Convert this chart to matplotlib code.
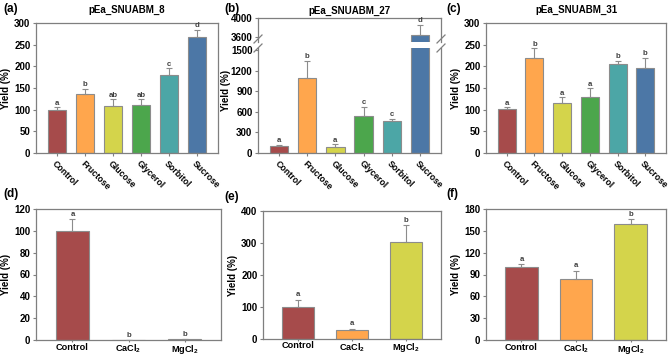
import matplotlib
matplotlib.use("Agg")
import matplotlib.pyplot as plt
import numpy as np

plt.rcParams['font.family'] = ['Liberation Sans', 'DejaVu Sans']
plt.rcParams['font.weight'] = 'bold'
plt.rcParams['mathtext.fontset'] = 'custom'
plt.rcParams['mathtext.rm'] = 'Liberation Sans:bold'
plt.rcParams['mathtext.bf'] = 'Liberation Sans:bold'
plt.rcParams['mathtext.default'] = 'bf'

sugars = ['Control', 'Fructose', 'Glucose', 'Glycerol', 'Sorbitol', 'Sucrose']
sugar_colors = ['#A64B4B', '#FFA64D', '#D4D44B', '#4CA64C', '#4CA6A6', '#4C77A6']

a_vals = [100, 135, 109, 111, 180, 268]
a_err = [5, 13, 15, 13, 15, 16]
a_let = ['a', 'b', 'ab', 'ab', 'c', 'd']

b_vals = [102, 1100, 88, 536, 465, 3640]
b_err = [18, 240, 40, 135, 35, 220]
b_let = ['a', 'b', 'a', 'c', 'c', 'd']

c_vals = [101, 220, 116, 130, 206, 197]
c_err = [5, 22, 13, 20, 7, 23]
c_let = ['a', 'b', 'a', 'a', 'b', 'b']

salts = ['Control', 'CaCl$_2$', 'MgCl$_2$']
salt_colors = ['#A64B4B', '#FFA64D', '#D4D44B']

d_vals = [100, 0, 0.5]
d_err = [11, 0, 0]
d_let = ['a', 'b', 'b']

e_vals = [100, 28, 302]
e_err = [23, 4, 54]
e_let = ['a', 'a', 'b']

f_vals = [100, 84, 160]
f_err = [4, 11, 6]
f_let = ['a', 'a', 'b']

W, H = 669, 355
fig = plt.figure(figsize=(W / 100, H / 100), dpi=100)

def rect(l, r, t, b):
    return [l / W, 1 - b / H, (r - l) / W, (b - t) / H]

SPINE = '#7f7f7f'
TFS = 7      # y tick font size
XFS = 6.6    # x tick font size (salts)
RFS = 6.3    # rotated x tick font size
LFS = 7      # ylabel size

def style(ax):
    for s in ax.spines.values():
        s.set_color(SPINE)
        s.set_linewidth(0.9)
    ax.tick_params(axis='y', colors='black', labelsize=TFS, length=2.5, width=0.8, pad=1.5)
    ax.tick_params(axis='x', colors='black', width=0.8)
    ax.tick_params(axis='both', color=SPINE)
    for lab in ax.get_yticklabels():
        lab.set_fontweight('bold')

def bars(ax, vals, err, colors, width, letters, off, fs=5.6):
    x = np.arange(len(vals))
    ax.bar(x, vals, width=width, color=colors, edgecolor='#8c8c8c', linewidth=0.8, zorder=2)
    ax.errorbar(x, vals, yerr=[np.zeros(len(err)), err], fmt='none', ecolor='#8c8c8c',
                elinewidth=0.8, capsize=2.2, capthick=0.8, zorder=3)
    lo, hi = ax.get_ylim()
    for xi, v, e, l in zip(x, vals, err, letters):
        if lo <= v + e <= hi:
            ax.text(xi, v + e + off, l, ha='center', va='bottom', fontsize=fs, color='#404040',
                    fontweight='bold', clip_on=False)
    return x

def sugar_xt(ax):
    ax.set_xticks(np.arange(6))
    ax.set_xticklabels(sugars, rotation=-45, ha='left', rotation_mode='anchor', fontsize=RFS, fontweight='bold')
    ax.tick_params(axis='x', pad=2, length=2)
    ax.set_xlim(-0.75, 5.75)

def salt_xt(ax):
    ax.set_xticks(np.arange(3))
    ax.set_xticklabels(salts, fontsize=XFS, fontweight='bold')
    ax.tick_params(axis='x', pad=0.3, length=1.5)
    ax.set_xlim(-0.65, 2.65)

# (a)
axa = fig.add_axes(rect(36, 218, 23, 153))
axa.set_ylim(0, 300)
bars(axa, a_vals, a_err, sugar_colors, 0.65, a_let, 1)
axa.set_yticks(range(0, 301, 50))
sugar_xt(axa)
axa.set_ylabel('Yield (%)', fontsize=LFS, fontweight='bold', labelpad=2)
axa.set_title('pEa_SNUABM_8', fontsize=7, fontweight='bold', pad=7)
style(axa)

# (b) broken axis
axb_top = fig.add_axes(rect(258, 441, 18, 42))
axb = fig.add_axes(rect(258, 441, 48, 153))
axb_top.set_ylim(3500, 4000)
axb.set_ylim(0, 1530)
bars(axb_top, b_vals, b_err, sugar_colors, 0.65, b_let, 5)
bars(axb, b_vals, b_err, sugar_colors, 0.65, b_let, 10)
axb_top.set_ylim(3500, 4000)
axb_top.set_yticks([3600, 4000])
axb.set_ylim(0, 1530)
axb.set_yticks(range(0, 1501, 300))
axb_top.set_xlim(-0.75, 5.75)
axb_top.set_xticks([])
sugar_xt(axb)
style(axb_top)
style(axb)
axb_top.spines['bottom'].set_visible(False)
axb.spines['top'].set_visible(False)
axb.set_ylabel('Yield (%)', fontsize=LFS, fontweight='bold', labelpad=2)
axb.yaxis.set_label_coords(-0.15, 0.6)
axb_top.set_title('pEa_SNUABM_27', fontsize=7, fontweight='bold', pad=3)
# break marks
for xf in (258, 441):
    for yc in (39, 48):
        fig.add_artist(plt.Line2D([(xf - 4) / W, (xf + 4) / W], [1 - (yc + 4) / H, 1 - (yc - 4) / H],
                                  color=SPINE, linewidth=0.9, transform=fig.transFigure))

# (c)
axc = fig.add_axes(rect(486, 666, 23, 153))
axc.set_ylim(0, 300)
bars(axc, c_vals, c_err, sugar_colors, 0.65, c_let, 1)
axc.set_yticks(range(0, 301, 50))
sugar_xt(axc)
axc.set_ylabel('Yield (%)', fontsize=LFS, fontweight='bold', labelpad=2)
axc.set_title('pEa_SNUABM_31', fontsize=7, fontweight='bold', pad=7)
style(axc)

# (d)
axd = fig.add_axes(rect(36, 221, 209, 340))
axd.set_ylim(0, 120)
bars(axd, d_vals, d_err, salt_colors, 0.6, d_let, 1)
axd.set_yticks(range(0, 121, 20))
salt_xt(axd)
axd.set_ylabel('Yield (%)', fontsize=LFS, fontweight='bold', labelpad=2)
style(axd)

# (e)
axe = fig.add_axes(rect(263, 441, 211, 339))
axe.set_ylim(0, 400)
bars(axe, e_vals, e_err, salt_colors, 0.6, e_let, 4)
axe.set_yticks(range(0, 401, 100))
salt_xt(axe)
axe.set_ylabel('Yield (%)', fontsize=LFS, fontweight='bold', labelpad=2)
style(axe)

# (f)
axf = fig.add_axes(rect(486, 666, 209, 340))
axf.set_ylim(0, 180)
bars(axf, f_vals, f_err, salt_colors, 0.6, f_let, 2)
axf.set_yticks(range(0, 181, 30))
salt_xt(axf)
axf.set_ylabel('Yield (%)', fontsize=LFS, fontweight='bold', labelpad=2)
style(axf)

for lab, x, y in [('(a)', 3, 9), ('(b)', 224, 9), ('(c)', 446, 9),
                  ('(d)', 3, 194), ('(e)', 224, 197), ('(f)', 446, 194)]:
    fig.text(x / W, 1 - y / H, lab, fontsize=8.5, fontweight='bold', va='center', ha='left')

fig.savefig('out.png', dpi=100)
